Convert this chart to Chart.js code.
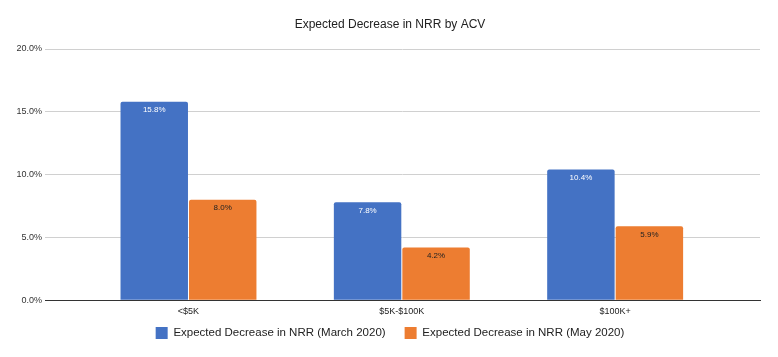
<!DOCTYPE html>
<html>
<head>
<meta charset="utf-8">
<script src="https://cdn.jsdelivr.net/npm/chart.js@4"></script>
<style>
html,body{margin:0;padding:0;background:#fff;}
#wrap{width:778px;height:357px;position:relative;}
</style>
</head>
<body>
<div id="wrap"><canvas id="c" width="778" height="357"></canvas></div>
<script>
const chartTitle = 'Expected Decrease in NRR by ACV';
const categories = ['<$5K', '$5K-$100K', '$100K+'];
const seriesNames = ['Expected Decrease in NRR (March 2020)', 'Expected Decrease in NRR (May 2020)'];
const marchValues = [15.8, 7.8, 10.4];
const mayValues = [8.0, 4.2, 5.9];
const yTicks = [0, 5, 10, 15, 20];

const FONT = "'Liberation Sans', Arial, sans-serif";
const BLUE = '#4472C4';
const ORANGE = '#ED7D31';
const X_MIN = -0.6726, X_MAX = 2.679;

const valueLabels = {
  id: 'valueLabels',
  afterDatasetsDraw(chart) {
    const ctx = chart.ctx;
    ctx.save();
    ctx.font = '8px ' + FONT;
    ctx.textAlign = 'center';
    ctx.textBaseline = 'middle';
    chart.data.datasets.forEach((ds, di) => {
      const meta = chart.getDatasetMeta(di);
      ctx.fillStyle = di === 0 ? '#ffffff' : '#222222';
      meta.data.forEach((bar, i) => {
        const v = ds.data[i].y;
        ctx.fillText(v.toFixed(1) + '%', bar.x, bar.y + 8.5);
      });
    });
    ctx.restore();
  }
};

new Chart(document.getElementById('c'), {
  type: 'bar',
  data: {
    datasets: [
      {
        label: seriesNames[0],
        data: marchValues.map((v, i) => ({x: i, y: v})),
        backgroundColor: BLUE,
        borderRadius: {topLeft: 2, topRight: 2},
        borderSkipped: 'bottom'
      },
      {
        label: seriesNames[1],
        data: mayValues.map((v, i) => ({x: i, y: v})),
        backgroundColor: ORANGE,
        borderRadius: {topLeft: 2, topRight: 2},
        borderSkipped: 'bottom'
      }
    ]
  },
  options: {
    responsive: false,
    animation: false,
    devicePixelRatio: 1,
    categoryPercentage: 0.642,
    barPercentage: 0.985,
    layout: {padding: {left: 20, right: 18, top: 0, bottom: 8}},
    plugins: {
      tooltip: {enabled: false},
      title: {
        display: true,
        text: chartTitle,
        color: '#222',
        font: {family: FONT, size: 12, weight: 'normal', lineHeight: 1.2},
        padding: {top: 17, bottom: 17.6}
      },
      legend: {
        position: 'bottom',
        labels: {
          color: '#222',
          font: {family: FONT, size: 11.5},
          boxWidth: 12,
          boxHeight: 12,
          padding: 19
        }
      }
    },
    scales: {
      x: {
        type: 'linear',
        offset: false,
        bounds: 'data',
        min: X_MIN,
        max: X_MAX,
        grid: {display: false, drawTicks: false},
        border: {display: true, color: '#333', width: 1},
        afterBuildTicks(scale) {
          scale.ticks = categories.map((c, i) => ({value: i}));
          scale.min = X_MIN;
          scale.max = X_MAX;
        },
        afterFit(scale) {
          scale.height = 7.7;
          scale._computeLabelArea = () => undefined;
        },
        ticks: {
          color: '#222',
          font: {family: FONT, size: 9},
          padding: 6,
          maxRotation: 0,
          autoSkip: false,
          callback: (v) => categories[v]
        }
      },
      y: {
        min: 0,
        max: 20,
        afterBuildTicks(scale) {
          scale.ticks = yTicks.map(v => ({value: v}));
        },
        afterFit(scale) {
          scale.width = 25;
          scale._computeLabelArea = () => undefined;
        },
        grid: {color: '#d0d0d0', drawTicks: false},
        border: {display: false},
        ticks: {
          color: '#333',
          font: {family: FONT, size: 9},
          padding: 3,
          callback: (v) => v.toFixed(1) + '%'
        }
      }
    }
  },
  plugins: [valueLabels]
});
</script>
</body>
</html>
